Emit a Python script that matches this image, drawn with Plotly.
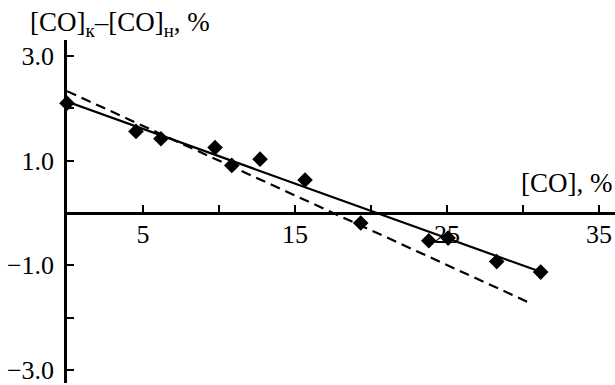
import plotly.graph_objects as go

# Data
co = [0, 4.54, 6.18, 9.74, 10.84, 12.7, 15.66, 19.32, 23.8, 25.07, 28.27, 31.16]
dco = [2.10, 1.56, 1.42, 1.25, 0.91, 1.03, 0.63, -0.19, -0.53, -0.48, -0.93, -1.13]

fit_solid_x = [0, 31.2]
fit_solid_y = [2.13, -1.13]
fit_dash_x = [0, 30.6]
fit_dash_y = [2.33, -1.74]

x_tickvals = [5, 10, 15, 20, 25, 30, 35]
x_ticktext = ["5", " ", "15", " ", "25", " ", "35"]
y_tickvals = [3, 2, 1, -1, -2, -3]
y_ticktext = ["3.0", " ", "1.0", "\u22121.0", " ", "\u22123.0"]

x_range = [0, 36.05]
y_range = [-3.251, 3.308]

FONT = "Liberation Serif"
FS = 26
FT = 27

fig = go.Figure()
fig.add_trace(go.Scatter(x=fit_dash_x, y=fit_dash_y, mode="lines",
                         line=dict(color="black", width=2.2, dash="10px,6px"),
                         showlegend=False, cliponaxis=False))
fig.add_trace(go.Scatter(x=fit_solid_x, y=fit_solid_y, mode="lines",
                         line=dict(color="black", width=2.2),
                         showlegend=False, cliponaxis=False))
fig.add_trace(go.Scatter(x=co, y=dco, mode="markers",
                         marker=dict(symbol="diamond", size=12, color="black"),
                         showlegend=False, cliponaxis=False))

xpos = (0 - y_range[0]) / (y_range[1] - y_range[0])

fig.update_layout(
    width=615, height=385,
    margin=dict(l=67, r=0, t=40, b=0),
    paper_bgcolor="white", plot_bgcolor="white",
    font=dict(family=FONT, size=FS, color="black"),
    xaxis=dict(range=x_range, anchor="free", position=xpos,
               showline=True, linecolor="black", linewidth=2.5,
               ticks="inside", ticklen=7, tickwidth=2, tickcolor="black",
               tickvals=x_tickvals, ticktext=x_ticktext,
               showgrid=False, zeroline=False, ticklabeloverflow="allow",
               ticklabelstandoff=-3,
               tickfont=dict(family=FONT, size=FS)),
    yaxis=dict(range=y_range,
               showline=True, linecolor="black", linewidth=2.5,
               ticks="inside", ticklen=7, tickwidth=2, tickcolor="black",
               tickvals=y_tickvals, ticktext=y_ticktext,
               showgrid=False, zeroline=False, ticklabeloverflow="allow",
               ticklabelstandoff=5,
               tickfont=dict(family=FONT, size=FS)),
    annotations=[
        dict(text="[CO]<sub>к</sub>\u2013[CO]<sub>н</sub>, %", xref="paper", yref="paper",
             x=-0.0712, y=1.046, xanchor="left", yanchor="middle",
             showarrow=False, font=dict(family=FONT, size=FT)),
        dict(text="[CO], %", xref="paper", yref="paper",
             x=0.998, y=0.583, xanchor="right", yanchor="middle",
             showarrow=False, font=dict(family=FONT, size=FT)),
    ],
)

fig.write_html("out.html", config={"displayModeBar": False},
               post_script="document.body.style.margin='0';")
